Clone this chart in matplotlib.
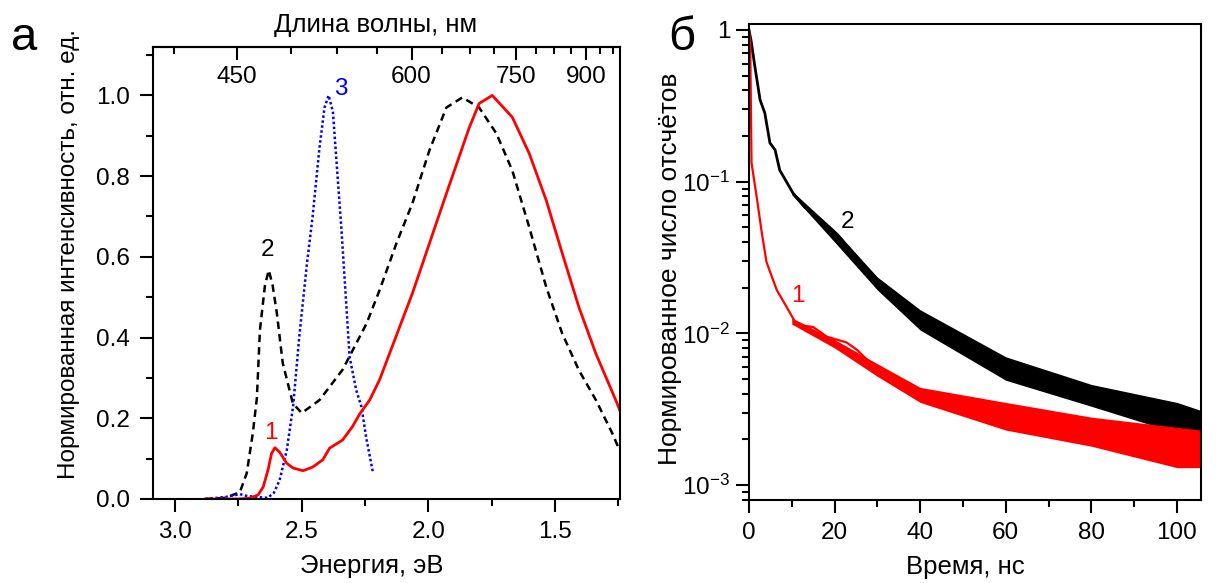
import numpy as np
import matplotlib
matplotlib.use('Agg')
from matplotlib import pyplot as plt
from matplotlib.ticker import FixedLocator, MultipleLocator, LogLocator, NullFormatter

plt.rcParams['font.family'] = ['Liberation Sans', 'DejaVu Sans']
plt.rcParams['mathtext.default'] = 'regular'
plt.rcParams['font.size'] = 17

# --- panel a: spectra vs photon energy (eV) ---
red_e = [2.88, 2.75, 2.705, 2.672, 2.652, 2.633, 2.619, 2.606, 2.587, 2.56, 2.535, 2.495,
         2.457, 2.417, 2.39, 2.339, 2.299, 2.272, 2.232, 2.193, 2.063, 1.929, 1.839, 1.80,
         1.748, 1.669, 1.602, 1.535, 1.472, 1.406, 1.339, 1.256, 1.245]
red_i = [0.0, 0.0, 0.002, 0.01, 0.03, 0.072, 0.113, 0.127, 0.116, 0.089, 0.077, 0.07,
         0.079, 0.097, 0.126, 0.146, 0.18, 0.21, 0.245, 0.295, 0.51, 0.757, 0.92, 0.98,
         1.0, 0.946, 0.856, 0.74, 0.609, 0.475, 0.36, 0.238, 0.22]

black_e = [2.88, 2.80, 2.744, 2.717, 2.693, 2.677, 2.665, 2.645, 2.63, 2.615, 2.598, 2.575,
           2.535, 2.50, 2.43, 2.339, 2.244, 2.193, 2.126, 2.063, 1.996, 1.929, 1.866, 1.80,
           1.732, 1.669, 1.602, 1.535, 1.472, 1.406, 1.339, 1.276, 1.245]
black_i = [0.0, 0.003, 0.017, 0.064, 0.163, 0.25, 0.418, 0.53, 0.567, 0.53, 0.46, 0.337,
           0.237, 0.213, 0.245, 0.32, 0.435, 0.517, 0.634, 0.733, 0.864, 0.97, 0.995, 0.97,
           0.906, 0.814, 0.673, 0.525, 0.41, 0.319, 0.245, 0.165, 0.12]

blue_e = [2.88, 2.80, 2.76, 2.744, 2.72, 2.68, 2.634, 2.61, 2.587, 2.559, 2.534, 2.51, 2.48,
          2.457, 2.43, 2.41, 2.394, 2.377, 2.343, 2.311, 2.285, 2.264, 2.245, 2.22]
blue_i = [0.0, 0.005, 0.01, 0.012, 0.008, 0.005, 0.003, 0.015, 0.047, 0.121, 0.23, 0.40, 0.58,
          0.70, 0.87, 0.97, 1.0, 0.96, 0.666, 0.352, 0.27, 0.228, 0.15, 0.069]

wl_major = [450, 600, 750, 900]
wl_minor = [412.5, 487.5, 525, 562.5, 637.5, 675, 712.5, 787.5, 825, 862.5, 937.5, 975]

# --- panel б: decay curves ---
k_t = [0, 0.5, 1.4, 2.6, 3.7, 4.9, 6.1, 7.2, 10.3, 13, 16.6, 20.6, 24.3, 30.6, 40, 50, 60,
       70, 80, 90, 100, 105.6]
k_y = [1.0, 0.85, 0.57, 0.346, 0.284, 0.18, 0.162, 0.119, 0.084, 0.068, 0.056, 0.045, 0.034,
       0.0213, 0.0122, 0.0082, 0.0059, 0.0049, 0.0039, 0.0033, 0.0028, 0.0025]
r_t = [0, 0.3, 0.6, 1.9, 3.0, 4.1, 6.5, 8.8, 10.7, 13, 15, 18.2, 22.8, 25.2, 28.3, 32.2, 40,
       50, 60, 70, 80, 90, 100, 105.6]
r_y = [1.0, 0.8, 0.133, 0.076, 0.046, 0.0295, 0.0193, 0.0149, 0.012, 0.0112, 0.011, 0.0095,
       0.0087, 0.0078, 0.0064, 0.0053, 0.0040, 0.0034, 0.0029, 0.0026, 0.0022, 0.0020, 0.0017,
       0.0016]
# spread of the noisy traces (lower / upper edge)
band_t = [10, 20, 30, 40, 60, 80, 100, 105.6]
k_lo = [0.082, 0.040, 0.0193, 0.0105, 0.0049, 0.0033, 0.0022, 0.0020]
k_hi = [0.087, 0.048, 0.0235, 0.0143, 0.0070, 0.0046, 0.0035, 0.0031]
r_lo = [0.0115, 0.0080, 0.0052, 0.0035, 0.0023, 0.0018, 0.0013, 0.0013]
r_hi = [0.0126, 0.0091, 0.0063, 0.0044, 0.0035, 0.0028, 0.0024, 0.0023]

fig = plt.figure(figsize=(12.19, 5.83), dpi=100)
ax1 = fig.add_axes([0.1255, 0.1441, 0.3831, 0.7753])
ax2 = fig.add_axes([0.6144, 0.1424, 0.3708, 0.8165])

for ax in (ax1, ax2):
    for s in ax.spines.values():
        s.set_linewidth(1.5)
    ax.tick_params(which='major', direction='out', length=9.5, width=1.5, labelsize=17.5)
    ax.tick_params(which='minor', direction='out', length=5, width=1.5)
    ax.tick_params(axis='x', which='major', pad=6)
ax1.tick_params(axis='y', which='major', pad=7)
ax2.tick_params(axis='y', which='major', pad=4)

# panel a
ax1.plot(black_e, black_i, color='black', lw=1.8, ls=(0, (3, 2)))
ax1.plot(blue_e, blue_i, color='#0000ff', lw=1.8, ls=(0, (1, 1)))
ax1.plot(red_e, red_i, color='red', lw=2.0)
ax1.set_xlim(3.087, 1.244)
ax1.set_ylim(0, 1.12)
ax1.xaxis.set_major_locator(MultipleLocator(0.5))
ax1.xaxis.set_minor_locator(MultipleLocator(0.25))
ax1.yaxis.set_major_locator(FixedLocator([0, 0.2, 0.4, 0.6, 0.8, 1.0]))
ax1.yaxis.set_minor_locator(FixedLocator([0.1, 0.3, 0.5, 0.7, 0.9, 1.1]))
ax1.yaxis.set_major_formatter(plt.FuncFormatter(lambda v, p: '%.1f' % v))
ax1.set_xlabel('Энергия, эВ', fontsize=18.5)
ax1.xaxis.set_label_coords(0.469, -0.122)
ax1.set_ylabel('Нормированная интенсивность, отн. ед.', fontsize=17.5)
ax1.yaxis.set_label_coords(-0.156, 0.542)

# wavelength scale, labels sit inside the frame under the top spine
top = ax1.secondary_xaxis('top', functions=(lambda e: 1239.84 / np.asarray(e, float),
                                            lambda w: 1239.84 / np.asarray(w, float)))
top.xaxis.set_major_locator(FixedLocator(wl_major))
top.xaxis.set_minor_locator(FixedLocator(wl_minor))
top.xaxis.set_major_formatter(plt.FuncFormatter(lambda v, p: '%d' % v))
top.tick_params(which='major', direction='in', length=9.5, width=1.5, pad=-29.5, labelsize=17.5)
top.tick_params(which='minor', direction='in', length=5, width=1.5)
top.spines['top'].set_linewidth(1.5)
fig.text(0.3085, 0.957, 'Длина волны, нм', fontsize=18.5, ha='center', va='center')

ax1.text(2.62, 0.163, '1', color='red', fontsize=17.5, ha='center', va='center')
ax1.text(2.634, 0.616, '2', color='black', fontsize=17.5, ha='center', va='center')
ax1.text(2.346, 1.017, '3', color='#0000ff', fontsize=17.5, ha='center', va='center')

# panel б
ax2.fill_between(band_t, k_lo, k_hi, color='black', lw=0)
ax2.fill_between(band_t, r_lo, r_hi, color='red', lw=0)
ax2.plot(k_t, k_y, color='black', lw=2)
ax2.plot(r_t, r_y, color='red', lw=1.6)
ax2.set_yscale('log')
ax2.set_xlim(0, 105.6)
ax2.set_ylim(7.96e-4, 1.096)
ax2.xaxis.set_major_locator(MultipleLocator(20))
ax2.xaxis.set_minor_locator(MultipleLocator(10))
ax2.yaxis.set_major_locator(FixedLocator([1e-3, 1e-2, 1e-1, 1]))
ax2.yaxis.set_major_formatter(plt.FuncFormatter(
    lambda v, p: '1' if v >= 1 else '$10^{%d}$' % round(np.log10(v))))
ax2.yaxis.set_minor_locator(LogLocator(base=10, subs=np.arange(2, 10)))
ax2.yaxis.set_minor_formatter(NullFormatter())
ax2.set_xlabel('Время, нс', fontsize=18.5)
ax2.xaxis.set_label_coords(0.478, -0.1155)
ax2.set_ylabel('Нормированное число отсчётов', fontsize=19)
ax2.yaxis.set_label_coords(-0.148, 0.485)
ax2.text(23.1, 0.0542, '2', color='black', fontsize=17.5, ha='center', va='center')
ax2.text(11.45, 0.01764, '1', color='red', fontsize=17.5, ha='center', va='center')

fig.text(0.009, 0.935, 'а', fontsize=34, ha='left', va='center')
fig.text(0.548, 0.935, 'б', fontsize=34, ha='left', va='center')

fig.savefig('out.png', dpi=100)
